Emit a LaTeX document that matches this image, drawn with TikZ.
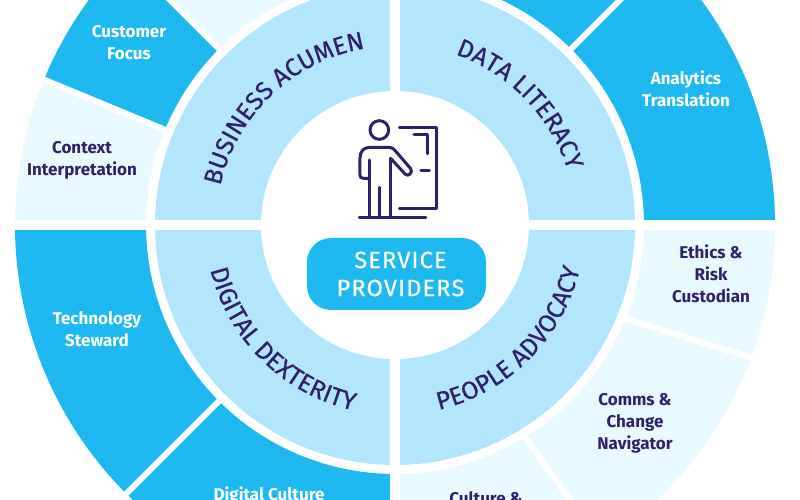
\documentclass[tikz,border=0pt]{standalone}
\usepackage{fontspec}
\setmainfont{Fira Sans}
\newfontfamily\curvefam[FakeBold=0.5]{Fira Sans}
\newfontfamily\pillfam[LetterSpace=5,FakeBold=0.5]{Fira Sans}
\usetikzlibrary{decorations.text}
\definecolor{ringblue}{HTML}{1FB9F2}
\definecolor{ringmid}{HTML}{B1E6FD}
\definecolor{ringpale}{HTML}{E8F9FF}
\definecolor{inkpurple}{HTML}{2F2169}
\newcommand{\curvefont}{\curvefam\fontsize{25}{26}\selectfont}
\begin{document}
\begin{tikzpicture}[
	x=1pt,
	y=1pt,
	bluelabel/.style={
		text=white,
		font=\fontsize{17}{22}\selectfont\bfseries,
		align=center,
		inner sep=0pt
	},
	palelabel/.style={
		text=inkpurple,
		font=\fontsize{17}{22}\selectfont\bfseries,
		align=center,
		inner sep=0pt
	},
	bigcut/.style={
		draw=white,
		line width=9.5pt
	},
	smallcut/.style={
		draw=white,
		line width=6pt
	},
	iconline/.style={
		draw=inkpurple,
		line width=3pt,
		line cap=round,
		line join=round
	},
	curved/.style={
		decorate,
		decoration={
			text along path,
			text align=center,
			text color=inkpurple,
			text={|\curvefont|#1}
		}
	},
]

\clip (-395,-275) rectangle (405,225);

% Outer ring
\foreach \from/\to/\col in {0/45/ringblue, 45/90/ringblue, 90/135/ringpale, 135/157.5/ringblue,
	157.5/180/ringpale, 180/225/ringblue, 225/270/ringblue, 270/302/ringpale, 302/338/ringpale, 338/360/ringpale}
	\fill[\col] (\from:249) arc[start angle=\from, end angle=\to, radius=249]
		-- (\to:380) arc[start angle=\to, end angle=\from, radius=380] -- cycle;

\foreach \ang/\angb in {45/45, 135/135, 157.5/157.5, 225/225, 301.4/303, 337.8/339.6}
	\draw[smallcut] (\ang:245) -- (\angb:385);

% Inner ring
\fill[ringmid] (0,0) circle[radius=240];
\fill[white] (0,0) circle[radius=134];

\draw[bigcut] (-390,0) -- (390,0);
\draw[bigcut] (0,-390) -- (0,390);

% Middle
\fill[white] (0,0) circle[radius=133];
\node[rectangle, rounded corners=24pt, fill=ringblue, text=white, align=center, inner sep=0pt,
	minimum width=179pt, minimum height=72pt, font=\pillfam\fontsize{23.5}{28}\selectfont]
	(providers) at (1.5,-49) {\hspace*{8pt}SERVICE\\\hspace*{8pt}PROVIDERS};

% Icon
\begin{scope}[shift={(-55,115)}, x=0.3333pt, y=-0.3333pt]
	\draw[iconline] (118,60) circle[radius=28];
	\draw[iconline] (178,52) -- (290,52) -- (290,295) -- (178,295);
	\draw[iconline] (222,75) -- (262,75) -- (262,132);
	\draw[iconline] (243,183) -- (268,183);
	\draw[iconline] (58,323) -- (258,323);
	\draw[iconline] (88,150) -- (88,323);
	\draw[iconline] (118,232) -- (118,323);
	\draw[iconline] (152,145) -- (152,323);
	\draw[iconline] (88,205) -- (70,205) .. controls (62,205) and (60,200) .. (60,195)
		-- (60,145) .. controls (60,125) and (70,112) .. (90,112) -- (145,112)
		.. controls (158,112) and (162,118) .. (170,127) -- (212,176)
		.. controls (220,188) and (205,202) .. (195,192) -- (152,145);
\end{scope}

% Ring titles
\path[curved={BUSINESS ACUMEN}] (171:179) arc[start angle=171, end angle=96, radius=179];
\path[curved={DATA LITERACY}] (74:181) arc[start angle=74, end angle=14, radius=181];
\path[curved={DIGITAL DEXTERITY}] (186:190) arc[start angle=186, end angle=265, radius=190];
\path[curved={PEOPLE ADVOCACY}] (278:190) arc[start angle=278, end angle=352, radius=190];

% Labels
\node[bluelabel] (customer) at (-266,182) {Customer\\Focus};
\node[palelabel] (context) at (-313,65) {Context\\Interpretation};
\node[bluelabel] (analytics) at (291,136) {Analytics\\Translation};
\node[bluelabel] (technology) at (-298,-104) {Technology\\Steward};
\node[bluelabel] (culture) at (-126,-270) {Digital Culture};
\node[palelabel] (ethics) at (316,-49) {Ethics \&\\Risk\\Custodian};
\node[palelabel] (comms) at (240,-198) {Comms \&\\Change\\Navigator};
\node[palelabel] (change) at (91,-273) {Culture \&};

\end{tikzpicture}
\end{document}
